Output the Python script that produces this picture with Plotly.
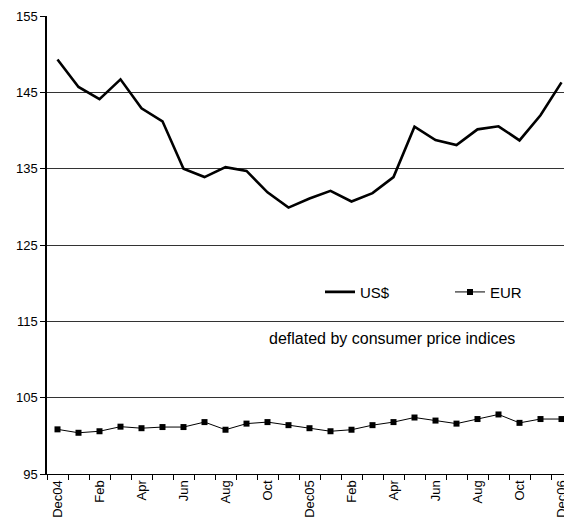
import plotly.graph_objects as go

months = ["Dec04", "Jan", "Feb", "Mar", "Apr", "May", "Jun", "Jul", "Aug", "Sep", "Oct", "Nov",
          "Dec05", "Jan", "Feb", "Mar", "Apr", "May", "Jun", "Jul", "Aug", "Sep", "Oct", "Nov", "Dec06"]
usd = [149.3, 145.7, 144.1, 146.7, 142.9, 141.2, 135.0, 133.9, 135.2, 134.7, 131.9, 129.9,
       131.1, 132.1, 130.7, 131.8, 133.9, 140.5, 138.75, 138.1, 140.15, 140.55, 138.7, 142.0, 146.3]
eur = [100.85, 100.4, 100.6, 101.2, 101.0, 101.15, 101.15, 101.8, 100.8, 101.6, 101.8, 101.4,
       101.0, 100.6, 100.8, 101.4, 101.8, 102.4, 102.0, 101.6, 102.2, 102.8, 101.7, 102.2, 102.2]
y_ticks = [95, 105, 115, 125, 135, 145, 155]

x = list(range(len(months)))
label_idx = x[::2]
label_txt = [months[i] for i in label_idx]

fig = go.Figure()
fig.add_trace(go.Scatter(x=x, y=usd, name="US$", mode="lines",
                         line=dict(color="black", width=2.6)))
fig.add_trace(go.Scatter(x=x, y=eur, name="EUR", mode="lines+markers",
                         line=dict(color="black", width=1),
                         marker=dict(symbol="square", size=6, color="black")))

fig.update_layout(
    width=564, height=518,
    margin=dict(l=39, r=0, t=8, b=52, autoexpand=False),
    paper_bgcolor="white", plot_bgcolor="white",
    font=dict(family="Liberation Sans, Arial, sans-serif", color="black", size=13),
    showlegend=True,
    legend=dict(orientation="h", x=0.52, y=0.397, xanchor="left", yanchor="middle",
                bgcolor="rgba(0,0,0,0)", font=dict(size=15),
                entrywidth=85, entrywidthmode="pixels"),
    annotations=[dict(text="deflated by consumer price indices", x=0.657, y=0.272,
                      xref="paper", yref="paper", showarrow=False,
                      font=dict(size=16, color="black"))],
)
fig.update_xaxes(range=[-0.5, len(months) - 0.5], tickmode="array", tickvals=label_idx,
                 ticktext=label_txt, tickangle=-90, ticks="", tickfont=dict(size=13),
                 automargin=False,
                 showgrid=False, zeroline=False, showline=True, linecolor="black", linewidth=1.2,
                 minor=dict(tick0=-0.5, dtick=1, ticks="outside", ticklen=5, tickcolor="black",
                            showgrid=False))
fig.update_yaxes(range=[95, 155], tickmode="array", tickvals=y_ticks, ticks="outside",
                 automargin=False,
                 ticklen=5, tickcolor="black", showgrid=True, gridcolor="#333333", gridwidth=1,
                 zeroline=False, showline=True, linecolor="black", linewidth=1.5,
                 tickfont=dict(size=13))

fig.write_html("out.html")
